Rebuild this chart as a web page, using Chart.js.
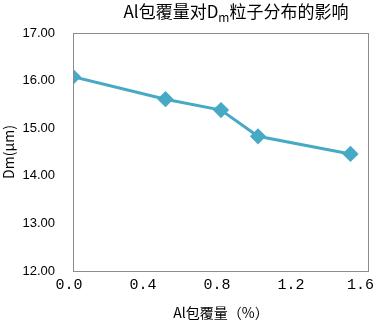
<!DOCTYPE html>
<html>
<head>
<meta charset="utf-8">
<script src="https://cdn.jsdelivr.net/npm/chart.js@4"></script>
<style>
  html, body { margin: 0; padding: 0; background: #fff; }
  #wrap { width: 378px; height: 321px; position: relative; }
</style>
</head>
<body>
<div id="wrap"><canvas id="dmChart"></canvas></div>
<script>
// Al coating amount (%) and Dm (um)
var alAmount = [0, 0.5, 0.8, 1.0, 1.5];
var dmValues = [16.08, 15.61, 15.38, 14.83, 14.46];
var xTicks = [0.0, 0.4, 0.8, 1.2, 1.6];
var yTicks = [12, 13, 14, 15, 16, 17];

var cjk = '"Noto Sans CJK SC", "Liberation Sans", sans-serif';

// title with subscript m, plus a frame around the plot area
var extras = {
    id: 'extras',
    afterDraw: function(chart) {
        var c = chart.ctx, a = chart.chartArea;
        c.save();
        c.strokeStyle = '#8c8c8c';
        c.lineWidth = 1;
        c.strokeRect(a.left + 0.5, a.top + 0.5, a.right - a.left - 1, a.bottom - a.top);

        c.fillStyle = '#000';
        c.textBaseline = 'alphabetic';
        var big = '17px ' + cjk, small = '12px ' + cjk;
        var parts = [['Al包覆量对D', big, 0], ['m', small, 4], ['粒子分布的影响', big, 0]];
        var total = 0;
        parts.forEach(function(p) { c.font = p[1]; total += c.measureText(p[0]).width; });
        var x = 236 - total / 2, y = 18;
        parts.forEach(function(p) {
            c.font = p[1];
            c.fillText(p[0], x, y + p[2]);
            x += c.measureText(p[0]).width;
        });
        c.restore();
    }
};

var ctx = document.getElementById('dmChart').getContext('2d');
var dmChart = new Chart(ctx, {
    type: 'line',
    data: {
        datasets: [{
            data: alAmount.map(function(x, i) { return { x: x, y: dmValues[i] }; }),
            borderColor: '#46aac5',
            backgroundColor: '#46aac5',
            borderWidth: 3,
            pointStyle: 'rectRot',
            pointRadius: 6,
            pointHoverRadius: 6,
            tension: 0
        }]
    },
    options: {
        responsive: true,
        maintainAspectRatio: false,
        animation: false,
        layout: { padding: { top: 33, right: 0, left: 0, bottom: 0 } },
        plugins: {
            legend: { display: false },
            tooltip: { enabled: false }
        },
        scales: {
            x: {
                type: 'linear',
                min: 0,
                max: 1.6,
                afterBuildTicks: function(s) { s.ticks = xTicks.map(function(v) { return { value: v }; }); },
                afterFit: function(s) { s.height = 50; s.paddingLeft = 0; s.paddingRight = 0; },
                grid: { display: false, drawTicks: false },
                border: { display: false },
                ticks: {
                    padding: 5,
                    labelOffset: -4,
                    color: '#000',
                    font: { family: '"Liberation Mono", monospace', size: 15 },
                    // last label is pulled in a little so it stays inside the picture
                    callback: function(v, i, all) { return v.toFixed(1) + (i === all.length - 1 ? ' ' : ''); }
                },
                title: {
                    display: true,
                    text: 'Al包覆量（%）',
                    color: '#000',
                    font: { family: cjk, size: 14 },
                    padding: { top: 2, bottom: 0 }
                }
            },
            y: {
                min: 12,
                max: 17,
                afterBuildTicks: function(s) { s.ticks = yTicks.map(function(v) { return { value: v }; }); },
                afterFit: function(s) { s.width = 73; s.paddingTop = 0; s.paddingBottom = 0; },
                grid: { display: false, drawTicks: false },
                border: { display: false },
                ticks: {
                    padding: 18,
                    color: '#000',
                    font: { family: '"Liberation Sans", sans-serif', size: 13 },
                    callback: function(v) { return v.toFixed(2); }
                },
                title: {
                    display: true,
                    text: 'Dm(μm)',
                    color: '#000',
                    font: { family: cjk, size: 14 },
                    padding: { top: 0, bottom: 0 }
                }
            },
            // empty right axis, only to keep a small margin right of the frame
            yRight: {
                position: 'right',
                min: 12,
                max: 17,
                grid: { display: false, drawTicks: false },
                border: { display: false },
                ticks: { display: false },
                afterFit: function(s) { s.width = 8; s.paddingTop = 0; s.paddingBottom = 0; }
            }
        }
    },
    plugins: [extras]
});
</script>
</body>
</html>
